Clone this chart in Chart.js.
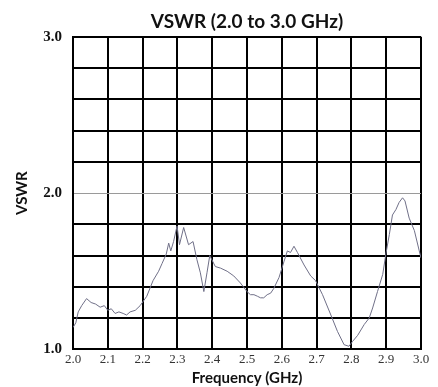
<!DOCTYPE html>
<html>
<head>
<meta charset="utf-8">
<script src="https://cdn.jsdelivr.net/npm/chart.js@4.4.1/dist/chart.umd.min.js"></script>
<style>
  html, body { margin: 0; padding: 0; background: #fff; }
  #vswrChart { display: block; }
</style>
</head>
<body>
<canvas id="vswrChart" width="438" height="387"></canvas>
<script>
const frequencias = [2.000, 2.008, 2.015, 2.025, 2.039, 2.052, 2.065, 2.078, 2.090, 2.100, 2.110, 2.121, 2.132, 2.144, 2.154, 2.164, 2.179, 2.193,
  2.212, 2.230, 2.246, 2.256, 2.268, 2.275, 2.281, 2.289, 2.299, 2.306, 2.318, 2.332, 2.345, 2.356, 2.366, 2.376, 2.385, 2.393,
  2.409, 2.424, 2.443, 2.462, 2.481, 2.500, 2.510, 2.520, 2.530, 2.539, 2.548, 2.558, 2.568, 2.577, 2.592, 2.606, 2.616, 2.625,
  2.635, 2.645, 2.664, 2.683, 2.697, 2.717, 2.741, 2.760, 2.779, 2.793, 2.803, 2.818, 2.837, 2.851, 2.861, 2.875, 2.890, 2.899,
  2.909, 2.918, 2.928, 2.937, 2.947, 2.954, 2.966, 2.981, 2.995, 3.000, 3.002];
const vswr = [1.14, 1.17, 1.24, 1.28, 1.325, 1.30, 1.29, 1.27, 1.28, 1.25, 1.26, 1.23, 1.24, 1.23, 1.22, 1.24, 1.25, 1.28,
  1.34, 1.44, 1.50, 1.55, 1.61, 1.68, 1.63, 1.69, 1.79, 1.67, 1.78, 1.67, 1.69, 1.575, 1.49, 1.37, 1.49, 1.60,
  1.53, 1.52, 1.50, 1.47, 1.425, 1.37, 1.35, 1.35, 1.34, 1.33, 1.33, 1.35, 1.36, 1.39, 1.46, 1.56, 1.63, 1.62,
  1.66, 1.62, 1.54, 1.47, 1.44, 1.35, 1.22, 1.115, 1.03, 1.02, 1.05, 1.09, 1.16, 1.20, 1.265, 1.37, 1.48, 1.61,
  1.735, 1.86, 1.895, 1.94, 1.97, 1.95, 1.84, 1.76, 1.63, 1.585, 1.51];
const ticksX = [2.0, 2.1, 2.2, 2.3, 2.4, 2.5, 2.6, 2.7, 2.8, 2.9, 3.0];
const ticksYRotulados = [1.0, 2.0, 3.0];

const pontos = frequencias.map((f, i) => ({ x: f, y: vswr[i] }));

function ehValor(c, alvo) {
  return !!(c && c.tick && Math.abs(c.tick.value - alvo) < 1e-6);
}

const ctx = document.getElementById('vswrChart').getContext('2d');
new Chart(ctx, {
  type: 'line',
  data: {
    datasets: [{
      data: pontos,
      borderColor: '#707088',
      borderWidth: 1,
      pointRadius: 0,
      fill: false,
      tension: 0
    }]
  },
  options: {
    responsive: false,
    animation: false,
    layout: { padding: { top: 8, right: 17, bottom: 0, left: 0 } },
    plugins: {
      legend: { display: false },
      tooltip: { enabled: false },
      title: {
        display: true,
        text: 'VSWR (2.0 to 3.0 GHz)',
        fullSize: false,
        color: '#111',
        font: { family: 'Lato', size: 19, weight: 'bold' },
        padding: { top: 2, bottom: 4 }
      }
    },
    scales: {
      x: {
        type: 'linear',
        min: 2.0,
        max: 3.0,
        afterBuildTicks: axis => { axis.ticks = ticksX.map(v => ({ value: v })); },
        ticks: {
          color: '#333',
          font: { family: 'Liberation Serif', size: 13 },
          padding: 2,
          callback: v => v.toFixed(1)
        },
        grid: { color: '#000', lineWidth: 2, drawTicks: false },
        border: { color: '#000', width: 2 },
        title: {
          display: true,
          text: 'Frequency (GHz)',
          color: '#111',
          font: { family: 'Lato', size: 15, weight: 'bold' },
          padding: { top: 0, bottom: 0 }
        }
      },
      y: {
        min: 1.0,
        max: 3.0,
        ticks: {
          stepSize: 0.2,
          color: '#111',
          padding: 11,
          font: { family: 'Liberation Serif', size: 15, weight: 'bold' },
          callback: v => ticksYRotulados.some(t => Math.abs(t - v) < 1e-6) ? v.toFixed(1) : ''
        },
        grid: {
          color: c => ehValor(c, 2) ? '#9a9a9a' : '#000',
          lineWidth: c => ehValor(c, 2) ? 1 : 2,
          drawTicks: false
        },
        border: { color: '#000', width: 2 },
        title: {
          display: true,
          text: 'VSWR',
          color: '#111',
          font: { family: 'Lato', size: 15, weight: 'bold' },
          padding: { top: 13, bottom: 0 }
        },
        afterFit: axis => { axis.width = 73; }
      }
    }
  }
});
</script>
</body>
</html>
